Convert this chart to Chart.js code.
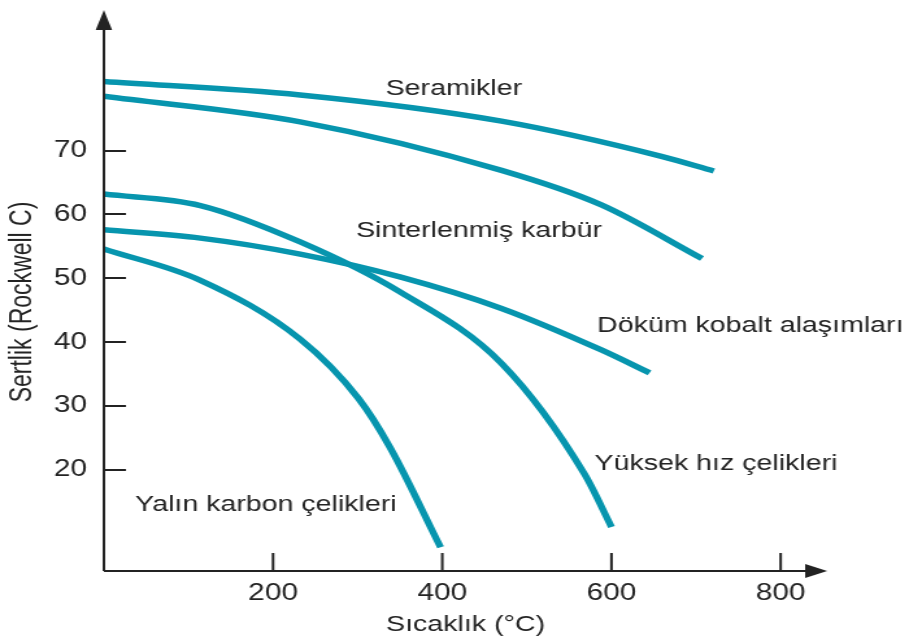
<!DOCTYPE html>
<html><head><meta charset="utf-8">
<script src="https://cdn.jsdelivr.net/npm/chart.js@4.4.0/dist/chart.umd.min.js"></script>
<style>
html,body{margin:0;padding:0;background:#fff;overflow:hidden;}
#wrap{width:700px;height:640px;transform:scaleX(1.29857);transform-origin:0 0;}
canvas{display:block}
</style></head><body>
<div id="wrap"><canvas id="c" width="700" height="640" style="width:700px;height:640px"></canvas></div>
<script>
// ---- data (temperature °C, hardness Rockwell C) ----
const xTicks = [200, 400, 600, 800];
const yTicks = [20, 30, 40, 50, 60, 70];

const seramiklerX = [0, 232, 470, 659, 721];
const seramiklerY = [80.8, 78.7, 74.6, 69.1, 66.8];

const sinterX = [0, 232, 470, 588, 707];
const sinterY = [78.5, 74.5, 66.9, 61.5, 53.1];

const kobaltX = [0, 114, 232, 351, 470, 588, 645];
const kobaltY = [57.6, 56.3, 53.8, 50.2, 45.3, 38.8, 35.2];

const yuksekX = [0, 114, 232, 351, 470, 568, 600];
const yuksekY = [63.2, 61.4, 55.7, 47.8, 36.7, 19.4, 11.1];

const yalinX = [0, 114, 232, 301, 338, 398];
const yalinY = [54.6, 49.7, 40.5, 31.2, 23.6, 7.9];

const curveNames = ['Seramikler', 'Sinterlenmiş karbür', 'Döküm kobalt alaşımları', 'Yüksek hız çelikleri', 'Yalın karbon çelikleri'];
const curveLabelX = [333, 298, 583, 580, 37];
const curveLabelY = [79.7, 57.4, 42.5, 20.9, 14.5];

const xTitle = 'Sıcaklık (°C)';
const yTitle = 'Sertlik (Rockwell C)';

// ---- styling ----
const LINE = '#0795ae';
const INK = '#232323';
const FONT = '"Liberation Sans", Arial, Helvetica, sans-serif';

function pts(xs, ys) { return xs.map((v, i) => ({x: v, y: ys[i]})); }
function ds(xs, ys) {
  return {data: pts(xs, ys), borderColor: LINE, borderWidth: 5.5, pointRadius: 0,
          cubicInterpolationMode: 'monotone', fill: false, borderCapStyle: 'butt'};
}

const axesPlugin = {
  id: 'axesDeco',
  afterDraw(chart) {
    const {ctx, chartArea: a, scales: {x, y}} = chart;
    ctx.save();
    ctx.strokeStyle = INK; ctx.fillStyle = INK; ctx.lineWidth = 2;
    const ax = a.left, ay = a.bottom;
    ctx.beginPath();
    ctx.moveTo(ax, ay); ctx.lineTo(ax, a.top + 18);
    ctx.moveTo(ax, ay); ctx.lineTo(a.right - 15, ay);
    ctx.stroke();
    ctx.beginPath();
    ctx.moveTo(ax, a.top); ctx.lineTo(ax - 6.3, a.top + 20); ctx.lineTo(ax + 6.3, a.top + 20); ctx.closePath();
    ctx.fill();
    ctx.beginPath();
    ctx.moveTo(a.right, ay); ctx.lineTo(a.right - 17, ay - 7); ctx.lineTo(a.right - 17, ay + 7); ctx.closePath();
    ctx.fill();
    ctx.beginPath();
    yTicks.forEach(v => { const p = Math.round(y.getPixelForValue(v)); ctx.moveTo(ax, p); ctx.lineTo(ax + 17, p); });
    xTicks.forEach(v => { const p = x.getPixelForValue(v); ctx.moveTo(p, ay); ctx.lineTo(p, ay - 18); });
    ctx.stroke();
    ctx.font = '22px ' + FONT;
    ctx.textAlign = 'left'; ctx.textBaseline = 'middle';
    curveNames.forEach((t, i) => ctx.fillText(t, x.getPixelForValue(curveLabelX[i]), y.getPixelForValue(curveLabelY[i])));
    ctx.save();
    ctx.translate(18, 302);
    ctx.rotate(-Math.PI / 2);
    ctx.textAlign = 'center'; ctx.textBaseline = 'middle';
    ctx.font = '23px ' + FONT;
    ctx.fillText(yTitle, 0, 0);
    ctx.restore();
    ctx.restore();
  }
};

new Chart(document.getElementById('c'), {
  type: 'line',
  data: {datasets: [ds(seramiklerX, seramiklerY), ds(sinterX, sinterY), ds(kobaltX, kobaltY), ds(yuksekX, yuksekY), ds(yalinX, yalinY)]},
  options: {
    responsive: false, animation: false, devicePixelRatio: 1,
    layout: {padding: {left: 0, top: 10, right: 63, bottom: 0}},
    plugins: {legend: {display: false}, tooltip: {enabled: false}},
    scales: {
      x: {
        type: 'linear', min: 0, max: 855,
        afterBuildTicks: s => { s.ticks = xTicks.map(v => ({value: v})); },
        afterFit: s => { s.height = 69; s.paddingLeft = 0; s.paddingRight = 0; },
        grid: {display: false, drawTicks: false}, border: {display: false},
        ticks: {color: INK, font: {family: FONT, size: 23}, padding: 9, maxRotation: 0, autoSkip: false},
        title: {display: true, text: xTitle, color: INK, font: {family: FONT, size: 22}, padding: {top: 0, bottom: 2}}
      },
      y: {
        type: 'linear', min: 4.2, max: 92,
        afterBuildTicks: s => { s.ticks = yTicks.map(v => ({value: v})); },
        afterFit: s => { s.width = 80; s.paddingTop = 0; s.paddingBottom = 0; },
        grid: {display: false, drawTicks: false}, border: {display: false},
        ticks: {color: INK, font: {family: FONT, size: 23}, padding: 13, autoSkip: false}
      }
    }
  },
  plugins: [axesPlugin]
});
</script>
</body></html>
